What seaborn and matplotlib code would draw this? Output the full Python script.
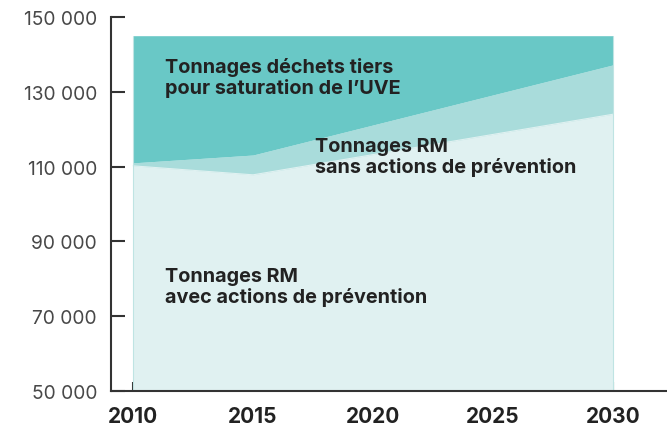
import matplotlib
matplotlib.use("Agg")
import matplotlib.pyplot as plt
import seaborn as sns
import pandas as pd

years = [2010, 2015, 2030]
avec_prevention = [110200, 107800, 124000]
sans_prevention = [111000, 113100, 137200]
saturation_uve = [145000, 145000, 145000]

y_ticks = [50000, 70000, 90000, 110000, 130000, 150000]
y_tick_labels = ["50 000", "70 000", "90 000", "110 000", "130 000", "150 000"]
x_ticks = [2010, 2015, 2020, 2025, 2030]
x_tick_labels = ["2010", "2015", "2020", "2025", "2030"]

label_tiers = "Tonnages déchets tiers\npour saturation de l’UVE"
label_sans = "Tonnages RM\nsans actions de prévention"
label_avec = "Tonnages RM\navec actions de prévention"

sns.set_theme(style="white")
plt.rcParams['font.family'] = ['Inter', 'DejaVu Sans']

c_dark = "#69C8C6"
c_mid = "#A9DCDB"
c_light = "#E0F1F1"

df = pd.DataFrame({"year": years, "avec": avec_prevention,
                   "sans": sans_prevention, "total": saturation_uve})

fig = plt.figure(figsize=(6.67, 4.27), dpi=100)
ax = fig.add_axes([111/667, (427-392)/427, 1 - 111/667, (392-18)/427])

base = 50000
ax.fill_between(df["year"], base, df["avec"], color=c_light, lw=0, zorder=1)
ax.fill_between(df["year"], df["avec"], df["sans"], color=c_mid, lw=0, zorder=1)
ax.fill_between(df["year"], df["sans"], df["total"], color=c_dark, lw=0, zorder=1)
sns.lineplot(data=df, x="year", y="avec", ax=ax, color=c_light, lw=0.8, zorder=2)
ax.vlines([years[0], years[-1]], base, saturation_uve[0], color="#BFE4E3", lw=0.8, zorder=2)

ax.set_xlim(2009.08, 2032.25)
ax.set_ylim(50000, 150000)
ax.set_xticks(x_ticks)
ax.set_xticklabels(x_tick_labels, fontsize=15, fontweight="bold", color="#222222")
ax.set_yticks(y_ticks)
ax.set_yticklabels(y_tick_labels, fontsize=13.8, color="#484848", fontweight="normal")
ax.set_xlabel("")
ax.set_ylabel("")

for s in ["top", "right"]:
    ax.spines[s].set_visible(False)
for s in ["left", "bottom"]:
    ax.spines[s].set_color("#333333")
    ax.spines[s].set_linewidth(1.5)
    ax.spines[s].set_zorder(5)

ax.tick_params(axis="y", direction="in", length=10, width=1.5, color="#333333", pad=10, left=True)
ax.tick_params(axis="x", direction="in", length=6.5, width=1.5, color="#333333", pad=11, bottom=True)

txt = dict(fontsize=14.3, fontweight="bold", color="#222222", va="top", ha="left", linespacing=1.12)
ax.text(2011.33, 139300, label_tiers, **txt)
ax.text(2017.6, 117800, label_sans, **txt)
ax.text(2011.33, 83100, label_avec, **txt)

fig.savefig("out.png", dpi=100)
